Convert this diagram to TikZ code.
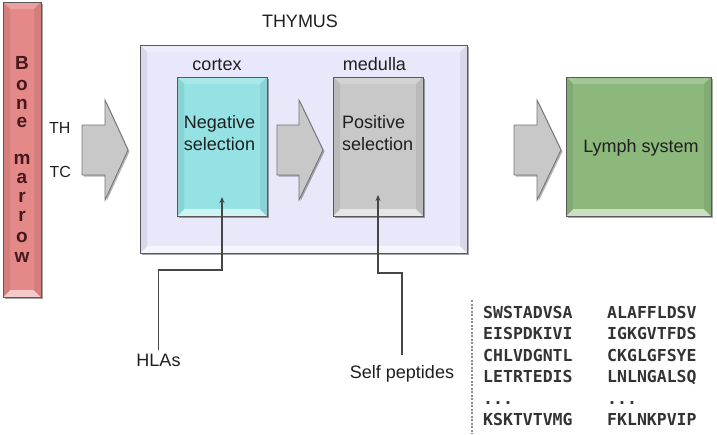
\documentclass[tikz,border=0pt]{standalone}
\usepackage{fontspec}
\setmainfont{Liberation Sans}
\newfontfamily\pepfont{DejaVu Sans Mono}
\usetikzlibrary{shadows,arrows.meta,calc}
\definecolor{bonecol}{RGB}{229,136,136}
\definecolor{thycol}{RGB}{232,232,250}
\definecolor{cortcol}{RGB}{148,226,228}
\definecolor{medcol}{RGB}{200,200,200}
\definecolor{lymphcol}{RGB}{140,184,124}
\definecolor{arrcol}{RGB}{200,200,200}
\definecolor{linecol}{RGB}{70,70,70}
\definecolor{bonetxt}{RGB}{70,25,30}
\def\bvw{7}
\def\pdots{...}
\tikzset{
  bevel/.style={fill=#1, draw=black!65, line width=0.8pt, inner sep=0pt, outer sep=0pt,
    drop shadow={shadow xshift=1.5pt, shadow yshift=-1.5pt, opacity=0.35, fill=black},
    path picture={
      \fill[#1!80!white] (path picture bounding box.north west) -- (path picture bounding box.north east)
        -- ($(path picture bounding box.north east)+(-\bvw,\bvw)$) -- ($(path picture bounding box.north west)+(\bvw,\bvw)$) -- cycle;
      \fill[#1!45!white] (path picture bounding box.south west) -- (path picture bounding box.south east)
        -- ($(path picture bounding box.south east)+(-\bvw,-\bvw)$) -- ($(path picture bounding box.south west)+(\bvw,-\bvw)$) -- cycle;
      \fill[#1!93!black] (path picture bounding box.north west) -- (path picture bounding box.south west)
        -- ($(path picture bounding box.south west)+(\bvw,-\bvw)$) -- ($(path picture bounding box.north west)+(\bvw,\bvw)$) -- cycle;
      \fill[#1!93!black] (path picture bounding box.north east) -- (path picture bounding box.south east)
        -- ($(path picture bounding box.south east)+(-\bvw,-\bvw)$) -- ($(path picture bounding box.north east)+(-\bvw,\bvw)$) -- cycle;
    }},
  blockarrow/.style={fill=arrcol, draw=black!55, line width=0.8pt, line join=miter,
    drop shadow={shadow xshift=1.5pt, shadow yshift=-1.5pt, opacity=0.3, fill=black}},
  lbl/.style={inner sep=0pt, font=\fontsize{18}{22}\selectfont, text=black!88},
  smalllbl/.style={inner sep=0pt, font=\fontsize{16}{19}\selectfont, text=black!88},
  bmletter/.style={inner sep=0pt, font=\bfseries\fontsize{19}{19}\selectfont, text=bonetxt, anchor=base,
    text height=10pt, text depth=0pt},
  pep/.style={inner sep=0pt, font=\pepfont\bfseries\fontsize{16.5}{20}\selectfont, text=black!80, anchor=base west},
  conn/.style={draw=linecol, line width=1.1pt, -{Stealth[length=6pt,width=5pt]}},
}
\begin{document}
\begin{tikzpicture}[x=1pt,y=-1pt]
\useasboundingbox (0,0) rectangle (717,434);
% bone marrow
\node[bevel=bonecol, minimum width=38, minimum height=295] (bone) at (22,149.5) {};
\foreach \l/\yy [count=\i] in {B/69,o/90,n/109,e/127,m/164,a/183,r/202.5,r/221,o/242.5,w/262.5}
  \node[bmletter] (bm\i) at (22,\yy) {\l};
% thymus
\node[bevel=thycol, minimum width=327, minimum height=208] (thymus) at (303.5,149) {};
\node[lbl, anchor=base] (thylbl) at (300,27.5) {THYMUS};
% cortex and medulla
\node[bevel=cortcol, minimum width=90, minimum height=139] (cortex) at (222,146.5) {};
\node[bevel=medcol, minimum width=90, minimum height=139] (medulla) at (378,146.5) {};
\node[lbl, anchor=base] (cortexlbl) at (217,70.5) {cortex};
\node[lbl, anchor=base] (medlbl) at (374.5,70.5) {medulla};
\node[lbl, anchor=base] (neg1) at (219.5,128.5) {Negative};
\node[lbl, anchor=base] (neg2) at (219.5,150.5) {selection};
\node[lbl, anchor=base west] (pos1) at (342,128.5) {Positive};
\node[lbl, anchor=base west] (pos2) at (342,150.5) {selection};
% lymph
\node[bevel=lymphcol, minimum width=145, minimum height=139] (lymph) at (638.5,146.5) {};
\node[lbl, anchor=base] (lymphlbl) at (641,152.5) {Lymph system};
% TH TC
\node[smalllbl, anchor=base west] (th) at (49,133.5) {TH};
\node[smalllbl, anchor=base west] (tc) at (49.5,177.5) {TC};
% block arrows
\draw[blockarrow] (82,125) -- (105,125) -- (105,100) -- (128,150) -- (105,200) -- (105,175) -- (82,175) -- cycle;
\draw[blockarrow] (277,125) -- (299,125) -- (299,100) -- (323,150) -- (299,200) -- (299,175) -- (277,175) -- cycle;
\draw[blockarrow] (514,125) -- (537,125) -- (537,100) -- (561,150) -- (537,200) -- (537,175) -- (514,175) -- cycle;
% inputs
\node[lbl, anchor=base] (hlas) at (158.5,366) {HLAs};
\node[lbl, anchor=base] (selfpep) at (402,378) {Self peptides};
\coordinate (hlatip) at (222,197);
\coordinate (seltip) at (378,195);
\draw[conn] ($(hlas.north)+(0,-3)$) |- ($(hlatip)+(0,73)$) -- (hlatip);
\draw[conn] ($(selfpep.north)+(0,-10)$) |- ($(seltip)+(0,78)$) -- (seltip);
% peptide list
\coordinate (dtop) at (472,300);
\coordinate (dbot) at (472,434);
\draw[draw=black!45, line width=1.2pt, dash pattern=on 2pt off 1.5pt] (dtop) -- (dbot);
\foreach \a/\b/\yy [count=\i] in {SWSTADVSA/ALAFFLDSV/318, EISPDKIVI/IGKGVTFDS/339.5, CHLVDGNTL/CKGLGFSYE/361, LETRTEDIS/LNLNGALSQ/382.5, \pdots/\pdots/404, KSKTVTVMG/FKLNKPVIP/425.5}{
  \node[pep] (pa\i) at (483,\yy) {\a};
  \node[pep] (pb\i) at (607,\yy) {\b};
}
\end{tikzpicture}
\end{document}
